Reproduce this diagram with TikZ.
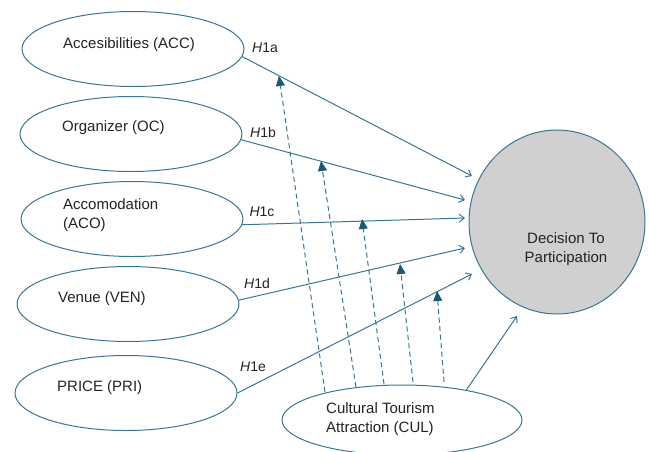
\documentclass[tikz,border=0pt]{standalone}
\usepackage{fontspec}
\setmainfont{Liberation Sans}
\usetikzlibrary{shapes.geometric,arrows.meta}
\definecolor{lineblue}{RGB}{58,118,148}
\definecolor{tipblue}{RGB}{28,88,118}
\definecolor{txtgray}{RGB}{35,35,35}
\definecolor{fillgray}{RGB}{208,208,208}
\begin{document}
\begin{tikzpicture}[x=1pt,y=-1pt,
  oval/.style={ellipse, draw=lineblue, line width=1pt, minimum width=222pt, minimum height=75pt, inner sep=0pt},
  lbl/.style={font=\fontsize{15}{19}\selectfont, text=txtgray, inner sep=0pt, align=left},
  hyp/.style={font=\fontsize{14}{17}\selectfont, text=txtgray, inner sep=0pt},
  direct/.style={draw=lineblue, line width=1pt, -{Straight Barb[length=5pt,width=8pt]}},
  moder/.style={draw=lineblue, line width=1pt, dash pattern=on 5pt off 3.5pt, -{Triangle[length=10pt,width=9pt,fill=tipblue,color=tipblue]}}
]
\useasboundingbox (0,0) rectangle (649,451);

% ellipses
\node[oval] (acc) at (133,49) {};
\node[oval] (oc) at (131,134) {};
\node[oval] (aco) at (132,219) {};
\node[oval] (ven) at (128,304) {};
\node[oval] (pri) at (126,393) {};
\node[oval, minimum width=240pt, minimum height=70pt] (cul) at (402,420) {};
\node[ellipse, draw=lineblue, line width=1pt, fill=fillgray, minimum width=176pt, minimum height=184pt, inner sep=0pt] (dtp) at (557,222) {};

% texts
\node[lbl, anchor=west] (acct) at (63,45) {Accesibilities (ACC)};
\node[lbl, anchor=west] (oct) at (62,128) {Organizer (OC)};
\node[lbl, anchor=west] (acot) at (63,215) {Accomodation\\(ACO)};
\node[lbl, anchor=west] (vent) at (58,299) {Venue (VEN)};
\node[lbl, anchor=west] (prit) at (57,388) {PRICE (PRI)};
\node[lbl, anchor=west] (cult) at (326,419) {Cultural Tourism\\Attraction (CUL)};
\node[lbl, align=center] (dtpt) at (566,249) {Decision To\\Participation};

% hypothesis labels
\node[hyp] (h1a) at (265,48) {\textit{H}1a};
\node[hyp] (h1b) at (263,132) {\textit{H}1b};
\node[hyp] (h1c) at (262,212) {\textit{H}1c};
\node[hyp] (h1d) at (257,283) {\textit{H}1d};
\node[hyp] (h1e) at (253,367) {\textit{H}1e};

% arrow end points near the circle
\coordinate (ta) at (472,176);
\coordinate (tb) at (465,200);
\coordinate (tc) at (465,218);
\coordinate (td) at (465,248);
\coordinate (te) at (472,274);
\coordinate (tf) at (517,316);

% direct effects
\draw[direct] (acc.-4.7) -- (ta);
\draw[direct] (oc.-3) -- (tb);
\draw[direct] (aco.-3) -- (tc);
\draw[direct] (ven.2) -- (td);
\draw[direct] (pri.east) -- (te);
\draw[direct] (cul.25) -- (tf);

% moderation points
\coordinate (c1) at (325,392);
\coordinate (c2) at (356,387);
\coordinate (c3) at (384,384);
\coordinate (c4) at (413,382);
\coordinate (c5) at (444,382);
\coordinate (m1) at (279,76);
\coordinate (m2) at (321,161);
\coordinate (m3) at (362,219);
\coordinate (m4) at (400,264);
\coordinate (m5) at (437,291);

\draw[moder] (c1) -- (m1);
\draw[moder] (c2) -- (m2);
\draw[moder] (c3) -- (m3);
\draw[moder] (c4) -- (m4);
\draw[moder] (c5) -- (m5);
\end{tikzpicture}
\end{document}
